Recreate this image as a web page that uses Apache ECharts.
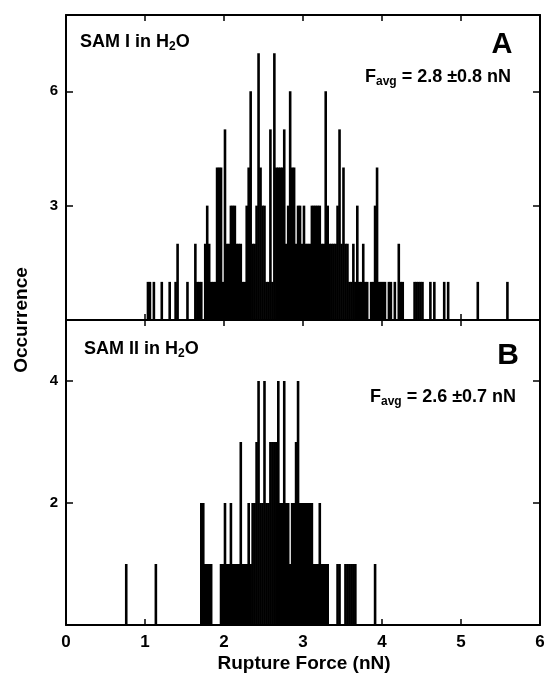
<!DOCTYPE html>
<html>
<head>
<meta charset="utf-8">
<script src="https://cdn.jsdelivr.net/npm/echarts@6/dist/echarts.min.js"></script>
<style>html,body{margin:0;padding:0;background:#fff}#c{width:548px;height:677px}</style>
</head>
<body>
<div id="c"></div>
<script>
// Panel A (SAM I in H2O): histogram bin starts (nN) and occurrences
const binA = [1.025,1.05,1.1,1.2,1.3,1.375,1.4,1.525,1.625,1.65,1.675,1.7,1.75,1.775,1.8,1.825,1.85,1.875,1.9,1.925,1.95,1.975,
  2.0,2.025,2.05,2.075,2.1,2.125,2.15,2.175,2.2,2.225,2.25,2.275,2.3,2.325,2.35,2.375,2.4,2.425,2.45,2.475,
  2.5,2.525,2.55,2.575,2.6,2.625,2.65,2.675,2.7,2.725,2.75,2.775,2.8,2.825,2.85,2.875,2.9,2.925,2.95,2.975,
  3.0,3.025,3.05,3.075,3.1,3.125,3.15,3.175,3.2,3.225,3.25,3.275,3.3,3.325,3.35,3.375,3.4,3.425,3.45,3.475,
  3.5,3.525,3.55,3.575,3.6,3.625,3.65,3.675,3.7,3.725,3.75,3.775,3.8,3.85,3.875,3.9,3.925,3.95,3.975,
  4.0,4.025,4.075,4.1,4.15,4.2,4.225,4.25,4.4,4.425,4.45,4.475,4.5,4.6,4.65,4.775,4.825,5.2,5.575];
const countA = [1,1,1,1,1,1,2,1,2,1,1,1,2,3,2,1,1,1,4,4,4,1,
  5,2,2,3,3,3,2,2,2,1,1,3,4,6,2,2,3,7,4,3,
  3,1,1,5,1,7,4,4,4,4,5,2,3,6,4,4,2,3,3,2,
  3,2,2,2,3,3,3,3,3,2,2,6,3,2,2,2,2,3,5,2,
  4,2,2,1,1,2,1,3,1,1,2,1,1,1,1,3,4,1,1,
  1,1,1,1,1,2,1,1,1,1,1,1,1,1,1,1,1,1,1];

// Panel B (SAM II in H2O)
const binB = [0.75,1.125,1.7,1.725,1.75,1.775,1.8,1.825,1.95,1.975,2.0,2.025,2.05,2.075,2.1,2.125,2.15,2.175,
  2.2,2.225,2.25,2.275,2.3,2.325,2.35,2.375,2.4,2.425,2.45,2.475,2.5,2.525,2.55,2.575,2.6,2.625,2.65,2.675,
  2.7,2.725,2.75,2.775,2.8,2.825,2.85,2.875,2.9,2.925,2.95,2.975,3.0,3.025,3.05,3.075,3.1,3.125,3.15,3.175,
  3.2,3.225,3.25,3.275,3.3,3.425,3.45,3.525,3.55,3.575,3.6,3.625,3.65,3.9];
const countB = [1,1,2,2,1,1,1,1,1,1,2,1,1,2,1,1,1,1,
  3,1,1,1,2,1,2,2,3,4,2,2,4,2,2,3,3,3,3,4,
  2,2,4,2,2,1,2,2,3,4,2,2,2,2,2,2,2,1,1,1,
  2,1,1,1,1,1,1,1,1,1,1,1,1,1];

const binWidth = 0.025;
const xTicks = [0,1,2,3,4,5,6];

const FF = '"Liberation Sans", Arial, Helvetica, sans-serif';
const chart = echarts.init(document.getElementById('c'), null, {renderer:'canvas'});

const G = [
  {left:66, top:15, width:474, height:305},
  {left:66, top:320, width:474, height:305}
];
function xAx(gi, pos, showLabel){
  return {type:'value', gridIndex:gi, position:pos, min:0, max:6, interval:1,
    axisLine:{show:true, onZero:false, lineStyle:{color:'#000', width:2}},
    axisTick:{show:true, inside:true, length:6, lineStyle:{color:'#000', width:1.5}},
    axisLabel:{show:showLabel, color:'#000', fontFamily:FF, fontWeight:'bold', fontSize:17, margin:9,
      formatter:v=> xTicks.includes(v) ? String(v) : ''},
    splitLine:{show:false}};
}
function yAx(gi, pos, max, interval, labels, showLabel){
  return {type:'value', gridIndex:gi, position:pos, min:0, max:max, interval:interval,
    axisLine:{show:true, onZero:false, lineStyle:{color:'#000', width:2}},
    axisTick:{show:true, inside:true, length:7, lineStyle:{color:'#000', width:1.5}},
    axisLabel:{show:showLabel, color:'#000', fontFamily:FF, fontWeight:'bold', fontSize:15, margin:8,
      formatter:v=> labels.includes(v) ? String(v) : ''},
    splitLine:{show:false}};
}
const rich = {
  a:{fontFamily:FF, fontWeight:'bold', fontSize:18, lineHeight:22, fill:'#000'},
  s:{fontFamily:FF, fontWeight:'bold', fontSize:12, lineHeight:10, verticalAlign:'bottom', fill:'#000'}
};
function rtext(x, y, txt){
  return {type:'text', left:x, top:y, style:{text:txt, rich:rich, fill:'#000'}};
}
chart.setOption({
  animation:false,
  grid:G,
  xAxis:[xAx(0,'bottom',false), xAx(0,'top',false), xAx(1,'bottom',true), xAx(1,'top',false)],
  yAxis:[yAx(0,'left',8,3,[3,6],true), yAx(0,'right',8,3,[],false),
         yAx(1,'left',5,2,[2,4],true), yAx(1,'right',5,2,[],false)],
  series:[
    {type:'bar', xAxisIndex:0, yAxisIndex:0, barWidth:2.6, itemStyle:{color:'#000'},
      data: binA.map((b,i)=>[b+binWidth/2, countA[i]])},
    {type:'bar', xAxisIndex:2, yAxisIndex:2, barWidth:2.6, itemStyle:{color:'#000'},
      data: binB.map((b,i)=>[b+binWidth/2, countB[i]])}
  ],
  graphic:[
    rtext(80, 33, '{a|SAM I in H}{s|2}{a|O}'),
    rtext(84, 340, '{a|SAM II in H}{s|2}{a|O}'),
    rtext(365, 68, '{a|F}{s|avg}{a| = 2.8 ±0.8 nN}'),
    rtext(370, 388, '{a|F}{s|avg}{a| = 2.6 ±0.7 nN}'),
    {type:'text', x:502, y:45, style:{text:'A', align:'center', verticalAlign:'middle', font:'bold 29px '+FF, fill:'#000'}},
    {type:'text', x:508, y:356, style:{text:'B', align:'center', verticalAlign:'middle', font:'bold 30px '+FF, fill:'#000'}},
    {type:'text', x:22, y:320, rotation:Math.PI/2, style:{text:'Occurrence', align:'center', verticalAlign:'middle', font:'bold 19px '+FF, fill:'#000'}},
    {type:'text', x:304, y:664, style:{text:'Rupture Force (nN)', align:'center', verticalAlign:'middle', font:'bold 19px '+FF, fill:'#000'}}
  ]
});
</script>
</body>
</html>
